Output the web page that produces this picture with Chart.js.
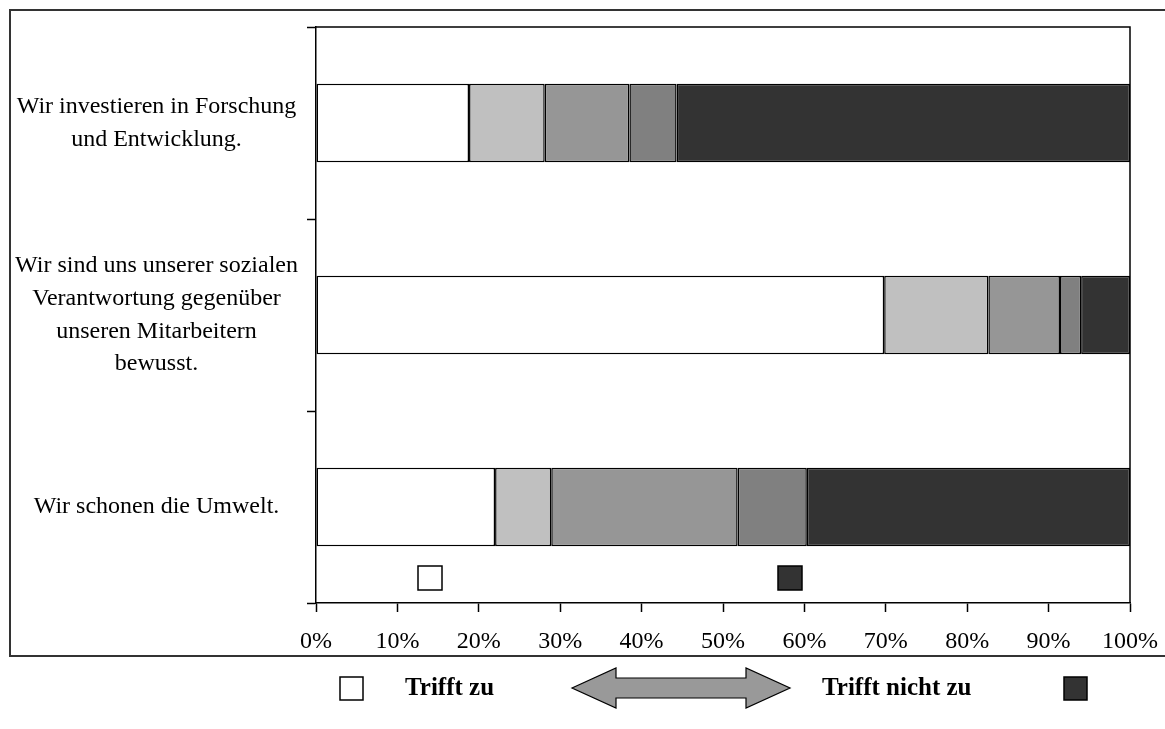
<!DOCTYPE html>
<html>
<head>
<meta charset="utf-8">
<script src="https://cdn.jsdelivr.net/npm/chart.js@4.4.0/dist/chart.umd.min.js"></script>
<style>
    html, body { margin: 0; padding: 0; background: #fff; }
    #wrap { width: 1165px; height: 729px; }
</style>
</head>
<body>
<div id="wrap"><canvas id="chart" width="1165" height="729"></canvas></div>
<script>
// categories (multi-line labels as in the original)
const categories = [
    ['Wir investieren in Forschung', 'und Entwicklung.'],
    ['Wir sind uns unserer sozialen', 'Verantwortung gegenüber', 'unseren Mitarbeitern', 'bewusst.'],
    ['Wir schonen die Umwelt.']
];

// shares per answer level, in %
const trifftZu      = [18.8, 69.8, 22.0];
const stufe2        = [9.3, 12.8, 6.9];
const stufe3        = [10.4, 8.8, 22.9];
const stufe4        = [5.8, 2.6, 8.5];
const trifftNichtZu = [55.7, 6.0, 39.7];

const seriesNames = ['Trifft zu', 'Stufe 2', 'Stufe 3', 'Stufe 4', 'Trifft nicht zu'];
const seriesColors = ['#FFFFFF', '#C0C0C0', '#969696', '#808080', '#333333'];

const xMin = 0;
const xMax = 100;
const xStep = 10;

const legendLeft = 'Trifft zu';
const legendRight = 'Trifft nicht zu';

const serif = '"Liberation Serif", "Times New Roman", serif';

function square(ctx, x, y, size, fill) {
    ctx.fillStyle = fill;
    ctx.fillRect(x, y, size, size);
    ctx.strokeStyle = '#000';
    ctx.lineWidth = 1.5;
    ctx.strokeRect(x, y, size, size);
}

const decorations = {
    id: 'decorations',
    beforeDraw(chart) {
        const ctx = chart.ctx;
        ctx.save();
        ctx.fillStyle = '#fff';
        ctx.fillRect(0, 0, chart.width, chart.height);
        ctx.restore();
    },
    afterDraw(chart) {
        const ctx = chart.ctx;
        const a = chart.chartArea;
        ctx.save();

        // outer frame
        ctx.strokeStyle = '#333';
        ctx.lineWidth = 2;
        ctx.strokeRect(10, 10, 1170, 646);

        // plot area border (top + right)
        ctx.strokeStyle = '#000';
        ctx.lineWidth = 1.5;
        ctx.beginPath();
        ctx.moveTo(a.left, a.top);
        ctx.lineTo(a.right, a.top);
        ctx.lineTo(a.right, a.bottom);
        ctx.stroke();

        // small legend keys left inside the plot
        square(ctx, 418, 566, 24, seriesColors[0]);
        square(ctx, 778, 566, 24, seriesColors[4]);

        // legend below the frame
        square(ctx, 340, 677, 23, seriesColors[0]);
        square(ctx, 1064, 677, 23, seriesColors[4]);

        ctx.fillStyle = '#000';
        ctx.font = 'bold 25px ' + serif;
        ctx.textBaseline = 'middle';
        ctx.textAlign = 'left';
        ctx.fillText(legendLeft, 405, 689);
        ctx.fillText(legendRight, 822, 689);

        // double arrow
        ctx.beginPath();
        ctx.moveTo(572, 688);
        ctx.lineTo(616, 668);
        ctx.lineTo(616, 678);
        ctx.lineTo(746, 678);
        ctx.lineTo(746, 668);
        ctx.lineTo(790, 688);
        ctx.lineTo(746, 708);
        ctx.lineTo(746, 698);
        ctx.lineTo(616, 698);
        ctx.lineTo(616, 708);
        ctx.closePath();
        ctx.fillStyle = '#999999';
        ctx.fill();
        ctx.strokeStyle = '#000';
        ctx.lineWidth = 1.2;
        ctx.stroke();

        ctx.restore();
    }
};

const seriesValues = [trifftZu, stufe2, stufe3, stufe4, trifftNichtZu];

new Chart(document.getElementById('chart'), {
    type: 'bar',
    data: {
        labels: categories,
        datasets: seriesValues.map((vals, i) => ({
            label: seriesNames[i],
            data: vals,
            backgroundColor: seriesColors[i],
            borderColor: '#000',
            borderWidth: 1.5,
            borderSkipped: false,
            categoryPercentage: 1,
            barPercentage: 0.41
        }))
    },
    options: {
        indexAxis: 'y',
        responsive: false,
        devicePixelRatio: 1,
        animation: false,
        layout: {
            padding: { top: 27, right: 35, left: 0, bottom: 0 }
        },
        plugins: {
            legend: { display: false },
            title: { display: false },
            tooltip: { enabled: false }
        },
        scales: {
            x: {
                stacked: true,
                min: xMin,
                max: xMax,
                afterFit(scale) {
                    scale.height = 126;
                    scale.paddingLeft = 0;
                    scale.paddingRight = 0;
                },
                border: { color: '#000', width: 1.5 },
                grid: {
                    drawOnChartArea: false,
                    tickLength: 9,
                    tickColor: '#000',
                    tickWidth: 1.5
                },
                ticks: {
                    stepSize: xStep,
                    padding: 15,
                    color: '#000',
                    font: { family: serif, size: 24 },
                    maxRotation: 0,
                    callback: v => v + '%'
                }
            },
            y: {
                stacked: true,
                afterFit(scale) { scale.width = 316; },
                border: { color: '#000', width: 1.5 },
                grid: {
                    drawOnChartArea: false,
                    tickLength: 9,
                    tickColor: '#000',
                    tickWidth: 1.5
                },
                ticks: {
                    crossAlign: 'center',
                    padding: 9,
                    color: '#000',
                    font: { family: serif, size: 24, lineHeight: 1.36 }
                }
            }
        }
    },
    plugins: [decorations]
});
</script>
</body>
</html>
